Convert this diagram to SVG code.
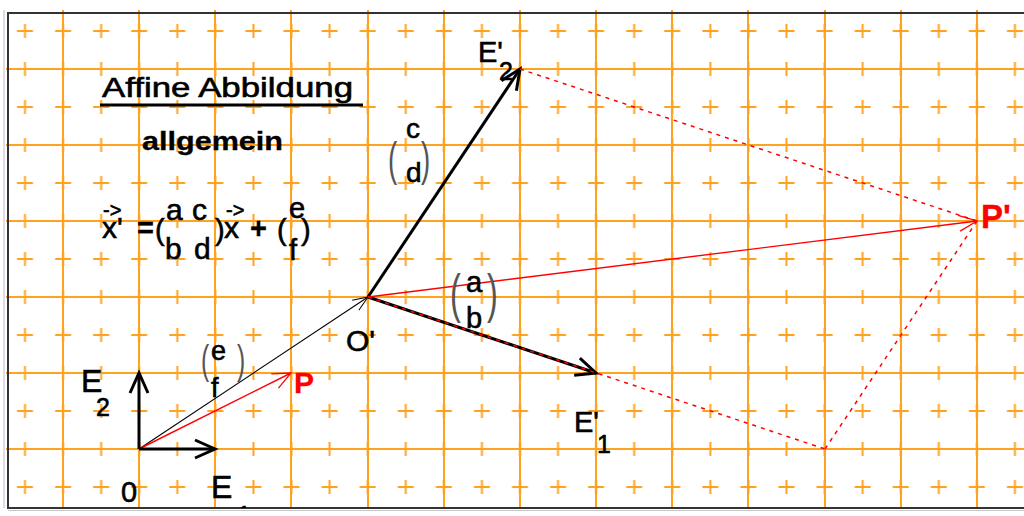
<svg xmlns="http://www.w3.org/2000/svg" width="1024" height="516" viewBox="0 0 1024 516">
<defs>
<style>
.grid{stroke:#FFA21F;stroke-width:2;fill:none}
.t{font-family:"Liberation Sans",Arial,sans-serif;fill:#000;stroke:#000;stroke-width:0.6}
.b{font-weight:bold;stroke-width:0.3}
.red{fill:#FF0000;stroke:#FF0000}
.par{font-family:"Liberation Sans",Arial,sans-serif;fill:#555}
.thick{stroke:#000;stroke-width:3;fill:none}
.thin{stroke:#000;stroke-width:1.1;fill:none}
.rl{stroke:#FF0000;stroke-width:1.4;fill:none}
.rd{stroke:#FF0000;stroke-width:1.5;fill:none;stroke-dasharray:4 5}
</style>
<pattern id="plus" patternUnits="userSpaceOnUse" x="5.9625" y="12" width="38.075" height="38">
<path d="M11.04,19 H27.04 M19.04,12 V26" stroke="#FFA21F" stroke-width="2" fill="none"/>
</pattern>
<marker id="ahK" markerUnits="userSpaceOnUse" orient="auto" overflow="visible" markerWidth="1" markerHeight="1" refX="0" refY="0">
<path d="M-20,-9 L0,0 L-20,9" fill="none" stroke="#000" stroke-width="3"/>
</marker>
<marker id="ahT" markerUnits="userSpaceOnUse" orient="auto" overflow="visible" markerWidth="1" markerHeight="1" refX="0" refY="0">
<path d="M-15,-6 L0,0 L-15,6" fill="none" stroke="#000" stroke-width="1"/>
</marker>
<marker id="ahR" markerUnits="userSpaceOnUse" orient="auto" overflow="visible" markerWidth="1" markerHeight="1" refX="0" refY="0">
<path d="M-18,-8 L0,0 L-18,8" fill="none" stroke="#FF0000" stroke-width="1.3"/>
</marker>
<clipPath id="frame"><rect x="8" y="13" width="1016" height="495"/></clipPath>
</defs>

<rect x="0" y="0" width="1024" height="516" fill="#fff"/>
<line x1="4" y1="10" x2="4" y2="508" stroke="#D9CBE3" stroke-width="1.5"/>

<g id="grid">
<rect x="8" y="13" width="1016" height="495" fill="url(#plus)"/>
<path class="grid" d="M63,10V508 M139,10V508 M215,10V508 M291,10V508 M368,10V508 M444,10V508 M520,10V508 M596,10V508 M672,10V508 M748,10V508 M825,10V508 M901,10V508 M977,10V508 M6,69H1024 M6,145H1024 M6,221H1024 M6,297H1024 M6,373H1024 M6,449H1024"/>
</g>

<g id="frame-border">
<path d="M1024,13 H8 V508 H1024" fill="none" stroke="#333" stroke-width="2"/>
<line x1="8" y1="510.5" x2="1024" y2="510.5" stroke="#C8C8C8" stroke-width="1"/>
</g>

<g id="connectors">
<line class="thin" x1="139" y1="449" x2="368" y2="297" marker-end="url(#ahT)"/>
<line class="rl" x1="139" y1="449" x2="291" y2="373" marker-end="url(#ahR)"/>
<line class="thick" x1="139" y1="449" x2="215" y2="449" marker-end="url(#ahK)"/>
<line class="thick" x1="139" y1="449" x2="139" y2="373" marker-end="url(#ahK)"/>
<line class="thick" x1="368" y1="297" x2="520" y2="69" marker-end="url(#ahK)"/>
<line class="thick" x1="368" y1="297" x2="596" y2="373" marker-end="url(#ahK)"/>
<line class="rl" x1="368" y1="297" x2="977" y2="221" marker-end="url(#ahR)"/>
<line class="rd" x1="368" y1="297" x2="825" y2="449"/>
<line class="rd" x1="825" y1="449" x2="977" y2="221"/>
<line class="rd" x1="520" y1="69" x2="977" y2="221"/>
</g>

<g id="title">
<text class="t" x="102" y="97" font-size="27" textLength="251" lengthAdjust="spacingAndGlyphs">Affine Abbildung</text>
<line x1="100" y1="105" x2="363" y2="105" stroke="#000" stroke-width="3"/>
<text class="t b" x="142" y="150" font-size="26" textLength="141" lengthAdjust="spacingAndGlyphs">allgemein</text>
</g>

<g id="formula">
<text class="t" x="103" y="217" font-size="20" stroke-width="0.3">-&gt;</text>
<text class="t" x="102" y="238" font-size="30">x'</text>
<text class="t b" x="137" y="238" font-size="29">=</text>
<text class="t" x="155" y="240" font-size="29">(</text>
<text class="t" x="166" y="220" font-size="30">a</text>
<text class="t" x="192" y="220" font-size="30">c</text>
<text class="t" x="165" y="259" font-size="30">b</text>
<text class="t" x="194" y="259" font-size="30">d</text>
<text class="t" x="215" y="240" font-size="29">)</text>
<text class="t" x="226" y="217" font-size="20" stroke-width="0.3">-&gt;</text>
<text class="t" x="224" y="238" font-size="30">x</text>
<text class="t b" x="250" y="238" font-size="29">+</text>
<text class="t" x="277" y="240" font-size="29">(</text>
<text class="t" x="289" y="218" font-size="29">e</text>
<text class="t" x="301" y="240" font-size="29">)</text>
<text class="t" x="289" y="260" font-size="29">f</text>
</g>

<g id="node-O">
<text class="t" x="121" y="502" font-size="29">0</text>
</g>
<g id="node-E1" clip-path="url(#frame)">
<text class="t" x="211" y="498" font-size="32">E</text>
<text class="t" x="237" y="524" font-size="25">1</text>
</g>
<g id="node-E2">
<text class="t" x="81" y="392" font-size="32">E</text>
<text class="t" x="96" y="416" font-size="25">2</text>
</g>
<g id="node-P">
<text class="t b red" x="294" y="393" font-size="30">P</text>
</g>
<g id="label-ef">
<text class="par" transform="translate(201,374) scale(0.6,1)" font-size="41">(</text>
<text class="t" x="211" y="360" font-size="27">e</text>
<text class="t" x="211" y="397" font-size="27">f</text>
<text class="par" transform="translate(237,374) scale(0.6,1)" font-size="41">)</text>
</g>
<g id="node-Oprime">
<text class="t" x="346" y="351" font-size="30">O'</text>
</g>
<g id="label-cd">
<text class="par" transform="translate(388,175) scale(0.6,1)" font-size="46">(</text>
<text class="t" x="406" y="138" font-size="28">c</text>
<text class="t" x="406" y="182" font-size="28">d</text>
<text class="par" transform="translate(421,175) scale(0.6,1)" font-size="46">)</text>
</g>
<g id="label-ab">
<text class="par" transform="translate(450,312) scale(0.6,1)" font-size="54">(</text>
<text class="t" x="466" y="292" font-size="29">a</text>
<text class="t" x="466" y="328" font-size="29">b</text>
<text class="par" transform="translate(487,312) scale(0.6,1)" font-size="54">)</text>
</g>
<g id="node-E1prime">
<text class="t" x="574" y="432" font-size="29">E'</text>
<text class="t" x="597" y="453" font-size="25">1</text>
</g>
<g id="node-E2prime">
<text class="t" x="478" y="62" font-size="29">E'</text>
<text class="t" x="499" y="80" font-size="25">2</text>
</g>
<g id="node-Pprime">
<text class="t b red" x="981" y="228" font-size="33">P'</text>
</g>
</svg>
